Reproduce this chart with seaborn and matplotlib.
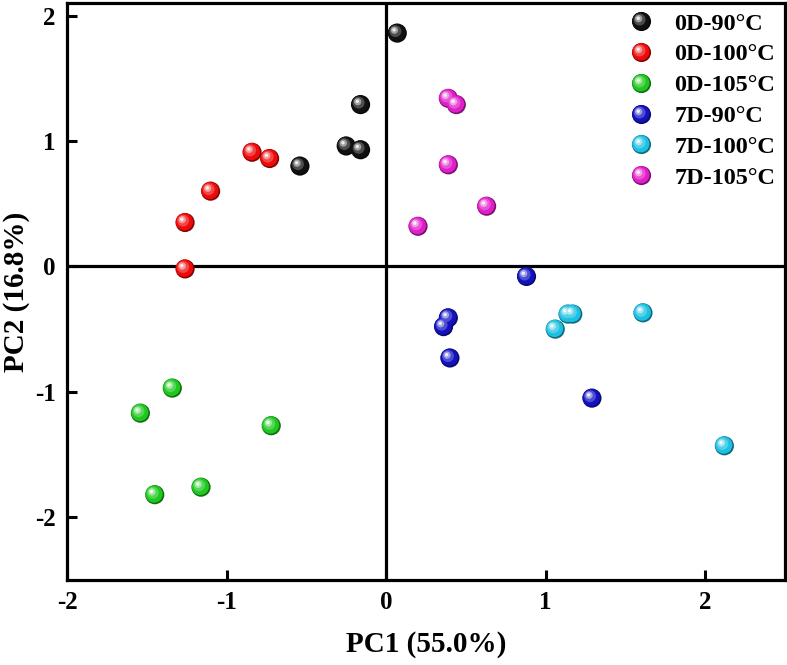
import numpy as np
import pandas as pd
import matplotlib
matplotlib.use("Agg")
import matplotlib.pyplot as plt
import seaborn as sns
from matplotlib.markers import MarkerStyle
from matplotlib.transforms import Affine2D
from matplotlib.lines import Line2D
from matplotlib.colors import to_rgb

groups = ["0D-90°C", "0D-100°C", "0D-105°C", "7D-90°C", "7D-100°C", "7D-105°C"]
colors = ["#111111", "#EE0A0A", "#1EC81E", "#1212C0", "#1CC0E2", "#E01ECA"]

pc1_0d90 = [0.07, -0.16, -0.25, -0.16, -0.54]
pc2_0d90 = [1.86, 1.29, 0.96, 0.93, 0.80]
pc1_0d100 = [-0.84, -0.73, -1.10, -1.26, -1.26]
pc2_0d100 = [0.91, 0.86, 0.60, 0.35, -0.02]
pc1_0d105 = [-1.34, -1.54, -0.72, -1.16, -1.45]
pc2_0d105 = [-0.97, -1.17, -1.27, -1.76, -1.82]
pc1_7d90 = [0.88, 0.39, 0.36, 0.40, 1.29]
pc2_7d90 = [-0.08, -0.41, -0.48, -0.73, -1.05]
pc1_7d100 = [1.17, 1.14, 1.06, 1.61, 2.12]
pc2_7d100 = [-0.38, -0.38, -0.50, -0.37, -1.43]
pc1_7d105 = [0.39, 0.44, 0.39, 0.63, 0.20]
pc2_7d105 = [1.34, 1.29, 0.81, 0.48, 0.32]

xs = [pc1_0d90, pc1_0d100, pc1_0d105, pc1_7d90, pc1_7d100, pc1_7d105]
ys = [pc2_0d90, pc2_0d100, pc2_0d105, pc2_7d90, pc2_7d100, pc2_7d105]

df = pd.DataFrame({
    "PC1": sum(xs, []),
    "PC2": sum(ys, []),
    "group": sum([[g] * len(x) for g, x in zip(groups, xs)], []),
})

sns.set_style("ticks")
plt.rcParams["font.family"] = ["Liberation Serif", "DejaVu Serif"]
plt.rcParams["font.weight"] = "bold"
plt.rcParams["text.color"] = "black"
plt.rcParams["axes.labelcolor"] = "black"
plt.rcParams["xtick.color"] = "black"
plt.rcParams["ytick.color"] = "black"
plt.rcParams["axes.edgecolor"] = "black"

fig = plt.figure(figsize=(7.87, 6.65), dpi=100)
ax = fig.add_axes([67 / 787, 1 - 580 / 665, (785 - 67) / 787, (580 - 3) / 665])

def mix(c, t, w):
    c = np.array(to_rgb(c)); t = np.array(to_rgb(t))
    return tuple(c * (1 - w) + t * w)

layers = [
    (1.00, 0.00, lambda c: mix(c, "black", 0.45)),
    (0.90, 0.035, lambda c: to_rgb(c)),
    (0.62, 0.10, lambda c: mix(c, "white", 0.25)),
    (0.38, 0.15, lambda c: mix(c, "white", 0.6)),
    (0.18, 0.17, lambda c: mix(c, "white", 0.92)),
]
S = 190
for sc, off, fn in layers:
    m = MarkerStyle("o", transform=Affine2D().scale(sc).translate(-off, off))
    pal = {g: fn(c) for g, c in zip(groups, colors)}
    sns.scatterplot(data=df, x="PC1", y="PC2", hue="group", palette=pal,
                    hue_order=groups, s=S, marker=m, linewidth=0,
                    legend=False, ax=ax, zorder=3)

ax.axhline(0, color="black", lw=2.3, zorder=2)
ax.axvline(0, color="black", lw=2.3, zorder=2)

ax.set_xlim(-2, 2.5)
ax.set_ylim(-2.5, 2.1)
ax.set_xticks([-2, -1, 0, 1, 2])
ax.set_yticks([-2, -1, 0, 1, 2])
ax.set_xticklabels(["-2", "-1", "0", "1", "2"])
ax.set_yticklabels(["-2", "-1", "0", "1", "2"])
ax.tick_params(direction="in", length=7, width=2.2, labelsize=18, pad=8)
for sp in ax.spines.values():
    sp.set_linewidth(2.3)
    sp.set_visible(True)
for lab in ax.get_xticklabels() + ax.get_yticklabels():
    lab.set_fontweight("bold")

ax.set_xlabel("PC1 (55.0%)", fontsize=21, fontweight="bold", labelpad=12)
ax.set_ylabel("PC2 (16.8%)", fontsize=21, fontweight="bold", labelpad=4)

handles = []
ms = np.sqrt(S)
for c in colors:
    parts = []
    for sc, off, fn in layers:
        m = MarkerStyle("o", transform=Affine2D().scale(sc).translate(-off, off))
        parts.append(Line2D([], [], ls="none", marker=m, markersize=ms,
                            markerfacecolor=fn(c), markeredgewidth=0))
    handles.append(tuple(parts))
leg = ax.legend(handles, groups, loc="upper right", frameon=False,
                prop={"size": 17.5, "weight": "bold"}, handlelength=1.0,
                handletextpad=0.85, labelspacing=0.36, borderaxespad=0.0,
                bbox_to_anchor=(1.0, 1.0))

fig.savefig("out.png", dpi=100)
